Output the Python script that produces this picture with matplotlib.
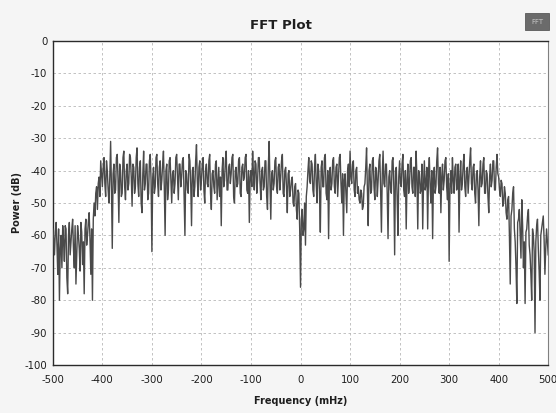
"""FFT plot: power spectrum of a band-limited signal, -500..500 mHz."""

import matplotlib
matplotlib.use("Agg")

import numpy as np
import matplotlib.pyplot as plt
import matplotlib.ticker as mticker

# ── Colours ────────────────────────────────────────────────────────────────
BG     = "#f5f5f5"
TRACE  = "#4a4a4a"
GRID   = "#b8b8b8"
SPINE  = "#2b2b2b"
TEXT   = "#1e1e1e"

# ── Data (one value every ~1.67 mHz) ──────────────────────────────────────
power_db = [
    # -500 .. -402
    -58, -61, -66, -59, -56, -63, -72, -58, -80, -64, -60, -70, -57, -62, -68,
    -57, -58, -73, -78, -60, -56, -66, -62, -58, -55, -64, -70, -57, -75, -66,
    -57, -60, -64, -71, -56, -59, -69, -62, -78, -58, -55, -63, -60, -56, -53,
    -61, -72, -58, -80, -55, -50, -54, -47, -45, -52, -44, -42, -48, -37, -41,
    # -400 .. -302
    -45, -39, -36, -44, -48, -37, -40, -46, -50, -42, -31, -45, -64, -41, -38,
    -47, -46, -36, -35, -43, -56, -38, -40, -48, -47, -36, -34, -45, -49, -40,
    -38, -46, -44, -35, -36, -42, -51, -38, -39, -47, -45, -36, -33, -44, -48,
    -39, -37, -50, -53, -41, -34, -46, -44, -38, -38, -49, -47, -37, -35, -43,
    # -300 .. -202
    -65, -42, -39, -47, -45, -36, -35, -44, -48, -39, -37, -46, -43, -38, -34,
    -45, -60, -40, -38, -49, -46, -37, -36, -43, -50, -41, -40, -47, -44, -36,
    -35, -42, -49, -38, -38, -45, -42, -37, -36, -48, -60, -40, -41, -46, -47,
    -35, -37, -44, -57, -40, -39, -48, -45, -37, -32, -43, -48, -39, -37, -46,
    # -200 .. -102
    -43, -38, -36, -46, -50, -40, -38, -44, -45, -37, -35, -47, -52, -41, -40,
    -45, -47, -38, -37, -49, -44, -39, -48, -42, -57, -40, -36, -45, -43, -37,
    -34, -46, -46, -39, -38, -44, -41, -36, -35, -48, -50, -40, -39, -45, -44,
    -37, -36, -47, -48, -39, -38, -43, -42, -36, -35, -46, -47, -40, -56, -42,
    # -100 .. -2
    -40, -45, -34, -41, -46, -37, -38, -47, -43, -36, -36, -44, -49, -40, -39,
    -46, -45, -37, -37, -48, -52, -39, -31, -44, -55, -41, -40, -46, -44, -37,
    -36, -45, -47, -39, -38, -46, -42, -37, -35, -47, -48, -40, -39, -45, -53,
    -41, -40, -48, -46, -43, -42, -50, -51, -45, -44, -52, -55, -46, -47, -58,
    # 0 .. 98
    -76, -55, -52, -60, -58, -50, -63, -48, -45, -40, -36, -43, -44, -37, -38,
    -46, -48, -39, -35, -44, -50, -38, -40, -47, -59, -39, -37, -45, -45, -36,
    -35, -47, -49, -40, -61, -42, -39, -46, -44, -37, -36, -45, -47, -39, -38,
    -48, -42, -36, -35, -44, -50, -41, -60, -43, -41, -47, -53, -40, -38, -45,
    # 100 .. 198
    -34, -42, -44, -38, -37, -46, -48, -40, -39, -47, -45, -49, -50, -46, -47,
    -52, -51, -45, -44, -39, -33, -46, -57, -40, -38, -47, -46, -37, -36, -45,
    -49, -39, -40, -48, -43, -37, -35, -46, -59, -41, -34, -44, -45, -38, -38,
    -47, -61, -42, -40, -46, -47, -37, -36, -45, -66, -40, -39, -48, -60, -42,
    # 200 .. 298
    -37, -44, -45, -38, -35, -46, -48, -40, -58, -43, -38, -47, -44, -37, -36,
    -45, -47, -39, -39, -48, -34, -42, -58, -40, -41, -47, -46, -38, -58, -44,
    -37, -46, -44, -39, -58, -41, -36, -45, -50, -40, -61, -43, -39, -47, -45,
    -37, -33, -44, -47, -39, -53, -42, -38, -46, -43, -37, -36, -45, -49, -41,
    # 300 .. 398
    -68, -45, -40, -47, -36, -43, -47, -39, -38, -46, -45, -38, -59, -42, -37,
    -46, -44, -38, -35, -45, -48, -40, -39, -47, -42, -37, -33, -44, -46, -39,
    -38, -47, -50, -41, -40, -46, -57, -42, -37, -45, -44, -38, -36, -47, -47,
    -40, -41, -48, -53, -42, -38, -45, -43, -37, -37, -46, -46, -39, -35, -41,
    # 400 .. 500
    -42, -46, -48, -43, -44, -51, -50, -45, -47, -53, -55, -49, -48, -60, -75,
    -54, -52, -47, -45, -58, -62, -70, -81, -56, -55, -52, -60, -67, -49, -57,
    -70, -62, -81, -59, -58, -54, -52, -63, -66, -72, -80, -58, -60, -65, -90,
    -62, -57, -55, -64, -71, -80, -60, -58, -56, -54, -61, -72, -64, -58, -62,
    -66,
]
freq_mhz = np.linspace(-500, 500, len(power_db))   # uniform FFT bins

x_ticks = [-500, -400, -300, -200, -100, 0, 100, 200, 300, 400, 500]
y_ticks = [0, -10, -20, -30, -40, -50, -60, -70, -80, -90, -100]

plt.rcParams["font.family"] = ["DejaVu Sans"]
plt.rcParams["axes.unicode_minus"] = False

# ── Figure ─────────────────────────────────────────────────────────────────
fig = plt.figure(figsize=(5.56, 4.13), dpi=100)
fig.patch.set_facecolor(BG)
ax = fig.add_axes([0.095, 0.116, 0.891, 0.785])
ax.set_facecolor("white")

ax.plot(freq_mhz, power_db, color=TRACE, linewidth=1.0, zorder=3)

# Grid
ax.grid(True, color=GRID, linewidth=0.6, linestyle=(0, (3, 3)), zorder=0)
ax.set_axisbelow(True)
for side in ("left", "top", "bottom"):
    ax.spines[side].set_color(SPINE)
    ax.spines[side].set_linewidth(1.0)
ax.spines["right"].set_color("#808080")

# Axes
ax.set_xlim(-500, 500)
ax.set_ylim(-100, 0)
ax.xaxis.set_major_locator(mticker.FixedLocator(x_ticks))
ax.yaxis.set_major_locator(mticker.FixedLocator(y_ticks))
ax.tick_params(length=0, labelsize=7.3, colors=TEXT)
ax.tick_params(axis="x", pad=7)
ax.tick_params(axis="y", pad=4)
ax.set_xlabel("Frequency (mHz)", fontsize=7, fontweight="bold", color=TEXT)
ax.set_ylabel("Power (dB)", fontsize=7, fontweight="bold", color=TEXT)
ax.xaxis.set_label_coords(0.5, -0.095)
ax.yaxis.set_label_coords(-0.062, 0.5)

# Title
fig.text(0.505, 0.939, "FFT Plot", ha="center", va="center",
         fontsize=9.5, fontweight="bold", color=TEXT)

# Legend chip
fig.text(0.966, 0.947, "FFT", ha="center", va="center", fontsize=5, color="#c8c8c8",
         bbox=dict(boxstyle="square,pad=0.8", fc="#6b6b6b", ec="#5a5a5a", lw=0.6))

fig.savefig("out.png", dpi=100, facecolor=BG)
plt.close(fig)
